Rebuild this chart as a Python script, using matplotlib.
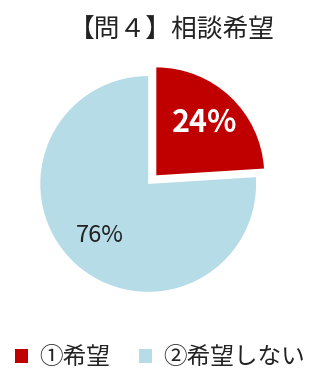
import matplotlib.pyplot as plt

plt.rcParams['font.family'] = ['Noto Sans CJK JP', 'DejaVu Sans']

# data
labels = ['①希望', '②希望しない']
values = [24, 76]
colors = ['#C00000', '#B5DCE7']

fig = plt.figure(figsize=(3.12, 3.72), dpi=100)
ax = fig.add_axes([0.077, 0.172, 0.796, 0.667])

wedges, texts, autotexts = ax.pie(values, colors=colors, startangle=90, counterclock=False,
                                  explode=[0.11, 0], autopct='%d%%', pctdistance=0.66,
                                  wedgeprops={'linewidth': 0})
autotexts[0].set_color('white')
autotexts[0].set_fontsize(22)
autotexts[0].set_fontweight('bold')
autotexts[1].set_color('#222222')
autotexts[1].set_fontsize(17)
ax.set_xlim(-1.15, 1.15)
ax.set_ylim(-1.15, 1.15)
ax.set_aspect('equal')

fig.text(0.55, 0.918, '【問４】相談希望', ha='center', va='center', fontsize=18.5, color='#222222')

fig.legend(wedges, labels, loc='center', bbox_to_anchor=(0.513, 0.038), ncol=2, frameon=False,
           fontsize=17, handlelength=0.55, handleheight=0.55, handletextpad=0.5, columnspacing=1.2,
           labelcolor='#222222')

fig.savefig('out.png', dpi=100)
